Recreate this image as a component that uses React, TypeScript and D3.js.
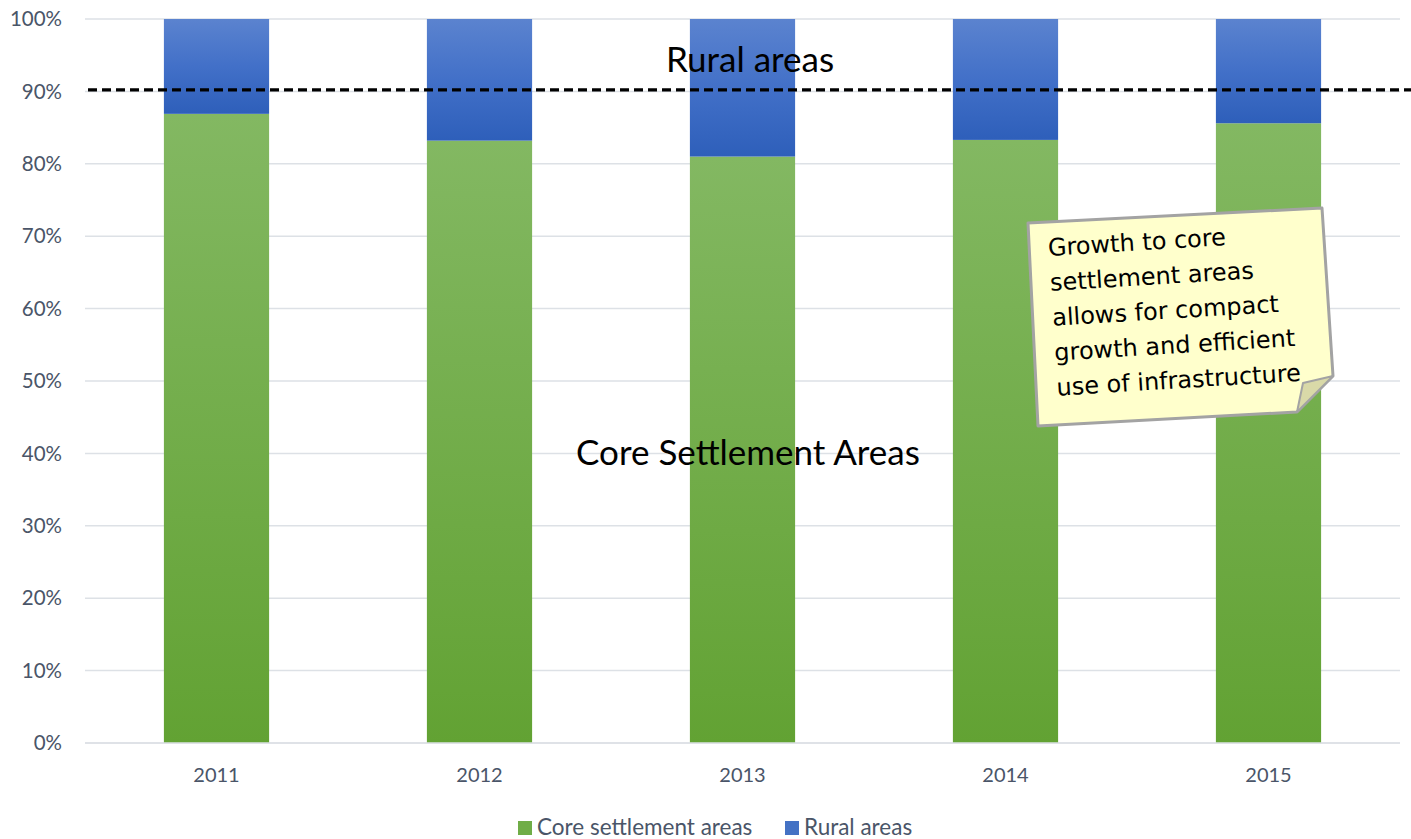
import React from "react";
import * as d3 from "d3";

const years = ["2011", "2012", "2013", "2014", "2015"];
const coreShare = [86.9, 83.2, 81.0, 83.3, 85.6];
const ruralShare = [13.1, 16.8, 19.0, 16.7, 14.4];
const yTicks = [0, 10, 20, 30, 40, 50, 60, 70, 80, 90, 100];
const thresholdValue = 90.2;
const noteLines = [
  "Growth to core",
  "settlement areas",
  "allows for compact",
  "growth and efficient",
  "use of infrastructure",
];

const W = 1411;
const H = 839;
const M = { left: 85, right: 1400, top: 19, bottom: 743 };
const FONT = "Lato, 'Open Sans', sans-serif";

export default function App() {
  const x = d3.scaleBand().domain(years).range([M.left, M.right]).paddingInner(0.6).paddingOuter(0.3);
  const y = d3.scaleLinear().domain([0, 100]).range([M.bottom, M.top]);
  const stacked = d3.stack<any>().keys(["core", "rural"])(
    years.map((yr, i) => ({ year: yr, core: coreShare[i], rural: ruralShare[i] }))
  );
  const fills = ["url(#gGreen)", "url(#gBlue)"];

  const note = "M1028,223 L1322,208 L1333,376 L1297,412 L1038,426 Z";
  const fold = "M1333,376 L1297,412 L1303,383 Z";

  return (
    <svg width={W} height={H} style={{ position: "absolute", left: 0, top: 0, background: "#fff" }}>
      <defs>
        <linearGradient id="gGreen" x1="0" y1="0" x2="0" y2="1">
          <stop offset="0" stopColor="#83B862" />
          <stop offset="1" stopColor="#62A233" />
        </linearGradient>
        <linearGradient id="gBlue" x1="0" y1="0" x2="0" y2="1">
          <stop offset="0" stopColor="#5B83CF" />
          <stop offset="0.5" stopColor="#4270C8" />
          <stop offset="1" stopColor="#2E5FBA" />
        </linearGradient>
      </defs>
      {yTicks.map((t) => (
        <g key={t}>
          <line x1={M.left} x2={M.right} y1={y(t)} y2={y(t)} stroke="#DDE1E6" strokeWidth={1.5} />
          <text x={62} y={y(t)} dy="0.35em" textAnchor="end" fontFamily={FONT} fontSize={20.5} fill="#4A5568">
            {t}%
          </text>
        </g>
      ))}
      {stacked.map((s, si) =>
        s.map((d, i) => (
          <rect
            key={si + "-" + i}
            x={x(years[i])}
            width={x.bandwidth()}
            y={y(d[1])}
            height={y(d[0]) - y(d[1])}
            fill={fills[si]}
          />
        ))
      )}
      <line x1={M.left} x2={M.right} y1={M.bottom} y2={M.bottom} stroke="#DDE1E6" strokeWidth={1.5} />
      {years.map((yr) => (
        <text key={yr} x={x(yr)! + x.bandwidth() / 2} y={782} textAnchor="middle" fontFamily={FONT} fontSize={20} fill="#4A5568">
          {yr}
        </text>
      ))}
      <line x1={88} x2={1411} y1={y(thresholdValue)} y2={y(thresholdValue)} stroke="#000" strokeWidth={3.2} strokeDasharray="9 5" />
      <text x={750} y={72} textAnchor="middle" fontFamily={FONT} fontSize={35} fill="#000">Rural areas</text>
      <text x={748} y={465} textAnchor="middle" fontFamily={FONT} fontSize={35} fill="#000">Core Settlement Areas</text>

      <path d={note} fill="#FFFFCC" stroke="#A3A3A3" strokeWidth={3} strokeLinejoin="round" />
      <path d={fold} fill="#D9D9A8" stroke="#A3A3A3" strokeWidth={2} strokeLinejoin="round" />
      <g transform="rotate(-3.5 1180 310)">
        {noteLines.map((l, i) => (
          <text key={i} x={1052} y={248 + i * 35} fontFamily="'DejaVu Sans', Verdana, sans-serif" fontSize={24} fill="#000">
            {l}
          </text>
        ))}
      </g>

      <rect x={518} y={821} width={14} height={14} fill="#70AD47" />
      <text x={537} y={835} fontFamily={FONT} fontSize={22.5} fill="#4A5568">Core settlement areas</text>
      <rect x={785} y={821} width={14} height={14} fill="#4472C4" />
      <text x={804} y={835} fontFamily={FONT} fontSize={22.5} fill="#4A5568">Rural areas</text>
    </svg>
  );
}
